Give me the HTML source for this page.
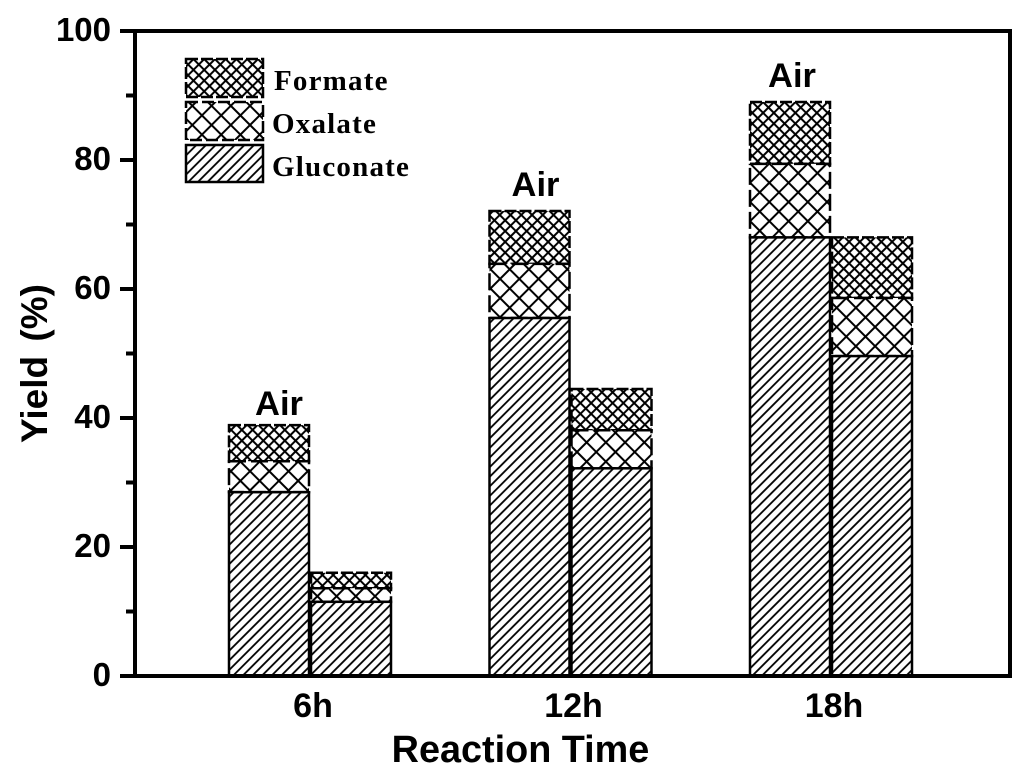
<!DOCTYPE html>
<html lang="en">
<head>
<meta charset="utf-8">
<title>Yield vs Reaction Time</title>
<style>
html,body{margin:0;padding:0;background:#fff;width:1024px;height:776px;overflow:hidden}
svg{display:block}
text{fill:#000;font-family:"Liberation Sans",sans-serif;font-weight:bold}
.legend-text{font-family:"Liberation Serif",serif;font-size:29px;letter-spacing:1.2px}
</style>
</head>
<body>
<svg id="chart" xmlns="http://www.w3.org/2000/svg" width="1024" height="776" viewBox="0 0 1024 776">
  <defs>
    <pattern id="hatch-gluconate" patternUnits="userSpaceOnUse" width="6.8" height="6.8" patternTransform="rotate(-45)">
      <rect width="6.8" height="6.8" fill="#fff"/>
      <line x1="0" y1="3.4" x2="6.8" y2="3.4" stroke="#000" stroke-width="1.8"/>
    </pattern>
    <pattern id="hatch-oxalate" patternUnits="userSpaceOnUse" width="13.6" height="13.6" patternTransform="rotate(45)">
      <rect width="13.6" height="13.6" fill="#fff"/>
      <line x1="0" y1="6.8" x2="13.6" y2="6.8" stroke="#000" stroke-width="2"/>
      <line x1="6.8" y1="0" x2="6.8" y2="13.6" stroke="#000" stroke-width="2"/>
    </pattern>
    <pattern id="hatch-formate" patternUnits="userSpaceOnUse" width="7.6" height="7.6" patternTransform="rotate(45)">
      <rect width="7.6" height="7.6" fill="#fff"/>
      <line x1="0" y1="3.8" x2="7.6" y2="3.8" stroke="#000" stroke-width="2"/>
      <line x1="3.8" y1="0" x2="3.8" y2="7.6" stroke="#000" stroke-width="2"/>
    </pattern>
  </defs>
  <g id="bars"></g>
  <g id="axes"></g>
  <g id="legend">
    <rect x="186" y="59" width="77" height="38" fill="url(#hatch-formate)" stroke="#000" stroke-width="2.5" stroke-dasharray="12 3"/>
    <rect x="186" y="102" width="77" height="38" fill="url(#hatch-oxalate)" stroke="#000" stroke-width="2.5" stroke-dasharray="12 4"/>
    <rect x="186" y="145" width="77" height="37" fill="url(#hatch-gluconate)" stroke="#000" stroke-width="2.5"/>
    <text class="legend-text" x="274" y="90">Formate</text>
    <text class="legend-text" x="272" y="133">Oxalate</text>
    <text class="legend-text" x="272" y="176">Gluconate</text>
  </g>
  <text font-size="37" word-spacing="4" text-anchor="middle" transform="translate(47,363.5) rotate(-90)">Yield (%)</text>
  <text font-size="37.8" text-anchor="middle" x="520.5" y="762">Reaction Time</text>
</svg>
<script>
const categories = ['6h', '12h', '18h'];
const gluconateA = [28.5, 55.5, 68.0];
const oxalateA = [4.8, 8.4, 11.4];
const formateA = [5.6, 8.2, 9.6];
const gluconateB = [11.5, 32.2, 49.6];
const oxalateB = [2.1, 5.9, 9.0];
const formateB = [2.4, 6.4, 9.4];
const yTicks = [0, 20, 40, 60, 80, 100];
const yMinorTicks = [10, 30, 50, 70, 90];
const annotationLabel = 'Air';

const NS = 'http://www.w3.org/2000/svg';
const plotLeft = 135, plotRight = 1010, plotTop = 31, plotBottom = 676;
const barWidth = 81;
const yMax = 100;

function yScale(v) {
  return plotBottom - (v / yMax) * (plotBottom - plotTop);
}
function xCenter(i) {
  return 310 + i * 260.5;
}
function make(tag, attrs, parent) {
  const el = document.createElementNS(NS, tag);
  for (const k in attrs) el.setAttribute(k, attrs[k]);
  parent.appendChild(el);
  return el;
}

const barsGroup = document.getElementById('bars');
const axesGroup = document.getElementById('axes');

function drawSegment(x, base, value, fill, dash, name) {
  const top = yScale(base + value);
  const attrs = {
    x: x, y: top, width: barWidth - 1, height: yScale(base) - top,
    fill: fill, stroke: '#000', 'stroke-width': 2.5
  };
  if (dash) attrs['stroke-dasharray'] = dash;
  const el = make('rect', attrs, barsGroup);
  
  
}

function drawStack(x, g, o, f, label) {
  drawSegment(x, g + o, f, 'url(#hatch-formate)', '12 3', 'bar-formate-' + label);
  drawSegment(x, g, o, 'url(#hatch-oxalate)', '17 5', 'bar-oxalate-' + label);
  drawSegment(x, 0, g, 'url(#hatch-gluconate)', '', 'bar-gluconate-' + label);
}

categories.forEach(function (cat, i) {
  const c = xCenter(i);
  drawStack(c - barWidth, gluconateA[i], oxalateA[i], formateA[i], cat + '-a');
  drawStack(c + 1, gluconateB[i], oxalateB[i], formateB[i], cat + '-b');

  const tick = make('text', { x: c + 3, y: 717, 'font-size': 34, 'text-anchor': 'middle' }, axesGroup);
  tick.textContent = cat;
  
  

  const total = gluconateA[i] + oxalateA[i] + formateA[i];
  const note = make('text', {
    x: c - 31 - i * 4, y: yScale(total) - (i === 0 ? 10 : 15),
    'font-size': 34.5, 'text-anchor': 'middle'
  }, axesGroup);
  note.textContent = annotationLabel;
  
  
});

const frame = make('path', {
  d: 'M' + plotLeft + ' ' + plotTop + 'H' + plotRight + 'V' + plotBottom + 'H' + plotLeft + 'Z',
  fill: 'none', stroke: '#000', 'stroke-width': 4
}, axesGroup);



yTicks.forEach(function (t) {
  const y = yScale(t);
  const line = make('line', { x1: 120, x2: plotLeft, y1: y, y2: y, stroke: '#000', 'stroke-width': 4 }, axesGroup);
  
  
  const label = make('text', { x: 111, y: y + 10, 'font-size': 33, 'text-anchor': 'end' }, axesGroup);
  label.textContent = t;
  
  
});

yMinorTicks.forEach(function (t) {
  const y = yScale(t);
  const line = make('line', { x1: 126, x2: plotLeft, y1: y, y2: y, stroke: '#000', 'stroke-width': 4 }, axesGroup);
  
  
});
</script>
</body>
</html>
